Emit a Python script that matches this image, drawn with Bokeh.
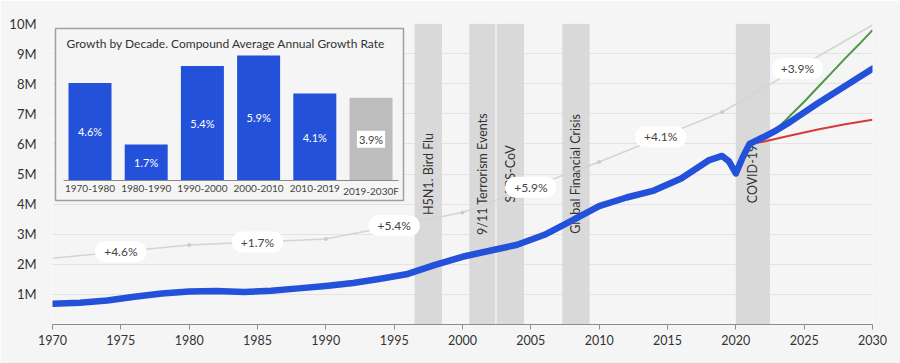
import math
from bokeh.plotting import figure
from bokeh.models import Range1d, FixedTicker, BoxAnnotation
from bokeh.core.properties import value
from bokeh.embed import file_html
from bokeh.resources import INLINE

# ---------------- data ----------------
x_ticks = [1970, 1975, 1980, 1985, 1990, 1995, 2000, 2005, 2010, 2015, 2020, 2025, 2030]
y_ticks = [1, 2, 3, 4, 5, 6, 7, 8, 9, 10]
y_tick_labels = ["1M", "2M", "3M", "4M", "5M", "6M", "7M", "8M", "9M", "10M"]

blue_years = [1970, 1972, 1974, 1976, 1978, 1980, 1982, 1984, 1986, 1988, 1990, 1992, 1994,
              1996, 1998, 2000, 2002, 2004, 2006, 2008, 2010, 2012, 2014, 2016, 2017, 2018,
              2019, 2019.5, 2020, 2020.5, 2021, 2022, 2023, 2024, 2026, 2028, 2030]
blue_vals = [0.69, 0.72, 0.80, 0.92, 1.03, 1.10, 1.11, 1.08, 1.12, 1.20, 1.28, 1.38, 1.52,
             1.68, 1.98, 2.25, 2.45, 2.65, 2.98, 3.45, 3.93, 4.22, 4.45, 4.85, 5.15, 5.45,
             5.60, 5.42, 5.02, 5.55, 6.00, 6.22, 6.46, 6.74, 7.35, 7.92, 8.50]

green_years = [2022, 2023, 2024, 2025, 2026, 2027, 2028, 2029, 2030]
green_vals = [6.22, 6.50, 6.95, 7.40, 7.88, 8.36, 8.84, 9.30, 9.78]

red_years = [2021, 2022, 2024, 2026, 2028, 2030]
red_vals = [6.00, 6.07, 6.28, 6.48, 6.65, 6.80]

trend_years = [1970, 1980, 1990, 2000, 2010, 2019, 2030]
trend_vals = [2.20, 2.64, 2.84, 3.72, 5.40, 7.06, 9.95]
trend_labels = ["+4.6%", "+1.7%", "+5.4%", "+5.9%", "+4.1%", "+3.9%"]

event_names = ["H5N1. Bird Flu", "9/11 Terrorism Events", "SARS-CoV", "Global Financial Crisis", "COVID-19"]
event_start = [1996.5, 2000.5, 2002.5, 2007.3, 2020.0]
event_end = [1998.5, 2002.4, 2004.5, 2009.3, 2022.5]

decades = ["1970-1980", "1980-1990", "1990-2000", "2000-2010", "2010-2019", "2019-2030F"]
cagr = [4.6, 1.7, 5.4, 5.9, 4.1, 3.9]
cagr_labels = ["4.6%", "1.7%", "5.4%", "5.9%", "4.1%", "3.9%"]
forecast = [False, False, False, False, False, True]
inset_title = "Growth by Decade. Compound Average Annual Growth Rate"

# ---------------- style ----------------
FONT = "Lato"
BG = "#f5f5f5"
BLUE = "#2451d9"
BAND = "#d9d9d9"

p = figure(width=900, height=363, output_backend="svg", toolbar_location=None,
           x_range=Range1d(1970, 2030), y_range=Range1d(0, 10),
           min_border_left=52, min_border_right=28, min_border_top=23, min_border_bottom=39,
           background_fill_color=BG, border_fill_color=BG, outline_line_color=None)
p.extra_x_ranges = {"ix": Range1d(-0.6673, 13.923)}
p.extra_y_ranges = {"iy": Range1d(-6.792, 7.406)}

# axes
p.xaxis.ticker = FixedTicker(ticks=x_ticks)
p.xaxis.axis_line_color = "#8c8c8c"
p.xaxis.major_tick_line_color = "#8c8c8c"
p.xaxis.major_tick_out = 5
p.xaxis.major_tick_in = 0
p.xaxis.minor_tick_line_color = None
p.xaxis.major_label_standoff = 5
p.xaxis.major_label_text_font = FONT
p.xaxis.major_label_text_font_size = "12.5px"
p.xaxis.major_label_text_color = "#333333"

p.yaxis.ticker = FixedTicker(ticks=y_ticks)
p.yaxis.major_label_overrides = {t: l for t, l in zip(y_ticks, y_tick_labels)}
p.yaxis.axis_line_color = None
p.yaxis.major_tick_line_color = None
p.yaxis.minor_tick_line_color = None
p.yaxis.major_label_standoff = 10
p.yaxis.major_label_text_font = FONT
p.yaxis.major_label_text_font_size = "13px"
p.yaxis.major_label_text_color = "#333333"

p.xgrid.visible = False
p.ygrid.ticker = FixedTicker(ticks=y_ticks)
p.ygrid.grid_line_color = "#e3e3e3"
p.ygrid.grid_line_width = 1

# event bands
for s, e in zip(event_start, event_end):
    p.add_layout(BoxAnnotation(left=s, right=e, fill_color=BAND, fill_alpha=1.0,
                               line_color=None, level="underlay"))

# inset box
p.quad(left=-0.614, right=5.578, bottom=-0.943, top=7.17, x_range_name="ix", y_range_name="iy",
       fill_color=BG, line_color="#a0a0a0", line_width=1.5)

idx = list(range(len(decades)))
bar_colors = ["#bdbdbd" if f else BLUE for f in forecast]
p.vbar(x=idx, top=cagr, bottom=0, width=0.765, fill_color=bar_colors, line_color=None,
       x_range_name="ix", y_range_name="iy")
p.segment(x0=[-0.47], y0=[0], x1=[5.49], y1=[0], line_color="#8a8a8a", line_width=1,
          x_range_name="ix", y_range_name="iy")

act = [i for i in idx if not forecast[i]]
p.text(x=[idx[i] for i in act], y=[cagr[i] / 2 for i in act], text=[cagr_labels[i] for i in act],
       text_align="center", text_baseline="middle", text_color="white",
       text_font=value(FONT), text_font_size="11px", x_range_name="ix", y_range_name="iy")
fc = [i for i in idx if forecast[i]]
p.text(x=[idx[i] for i in fc], y=[cagr[i] / 2 for i in fc], text=[cagr_labels[i] for i in fc],
       text_align="center", text_baseline="middle", text_color="#444444",
       background_fill_color="white", padding=2,
       text_font=value(FONT), text_font_size="11px", x_range_name="ix", y_range_name="iy")
p.text(x=idx, y=[0] * len(idx), text=decades, text_align="center", text_baseline="top",
       y_offset=4, text_color="#444444", text_font=value(FONT), text_font_size="10px",
       x_range_name="ix", y_range_name="iy")
p.text(x=[-0.418], y=[6.46], text=[inset_title], text_align="left", text_baseline="middle",
       text_color="#333333", text_font=value(FONT), text_font_size="12px",
       x_range_name="ix", y_range_name="iy")

# event labels
ev_mid = [(s + e) / 2 for s, e in zip(event_start, event_end)]
p.text(x=ev_mid, y=[5] * len(ev_mid), text=event_names, angle=math.pi / 2,
       text_align="center", text_baseline="middle", text_color="#333333",
       text_font=value(FONT), text_font_size="12.5px")

# trend line
p.line(trend_years, trend_vals, line_color="#d4d4d4", line_width=1.5)
p.scatter(trend_years[1:-1], trend_vals[1:-1], size=4, fill_color="#cccccc", line_color=None)
mid_x = [(a + b) / 2 for a, b in zip(trend_years[:-1], trend_years[1:])]
mid_y = [(a + b) / 2 for a, b in zip(trend_vals[:-1], trend_vals[1:])]
p.text(x=mid_x, y=mid_y, text=trend_labels, text_align="center", text_baseline="middle",
       text_color="#444444", text_font=value(FONT), text_font_size="12px",
       background_fill_color="white", padding=(9, 3), border_radius=10)

# scenario lines and main line
p.line(green_years, green_vals, line_color="#4a9a40", line_width=2)
p.line(red_years, red_vals, line_color="#d63a3a", line_width=2)
p.line(blue_years, blue_vals, line_color=BLUE, line_width=6.5, line_join="round", line_cap="round")

open("out.html", "w").write(file_html(p, INLINE))
